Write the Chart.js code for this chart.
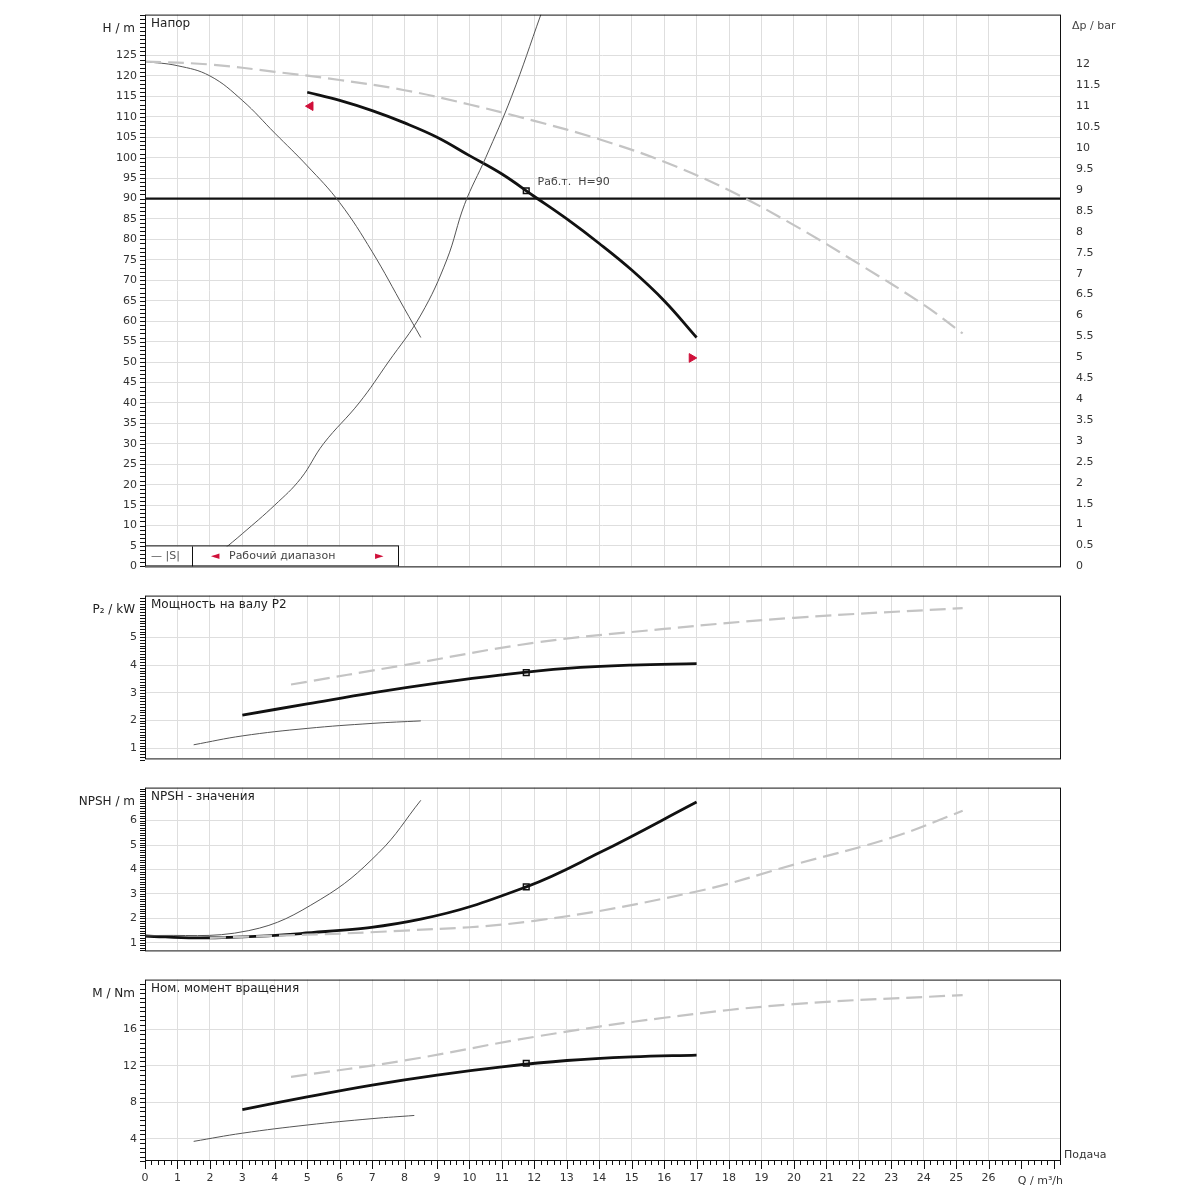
<!DOCTYPE html>
<html><head><meta charset="utf-8">
<script src="https://cdn.jsdelivr.net/npm/chart.js@4.4.1/dist/chart.umd.min.js"></script>
<style>
body{margin:0;background:#fff;width:1200px;height:1200px;position:relative;overflow:hidden}
.p{position:absolute;left:0;width:1200px}
</style></head><body>
<div class="p" style="top:0;height:581px"><canvas id="c1"></canvas></div>
<div class="p" style="top:581px;height:192px"><canvas id="c2"></canvas></div>
<div class="p" style="top:773px;height:192px"><canvas id="c3"></canvas></div>
<div class="p" style="top:965px;height:235px"><canvas id="c4"></canvas></div>
<script>
// ---- data (Q in m³/h) ----
const headQ = [5, 6, 7, 8, 9, 10, 11, 12, 13, 14, 15, 16, 17];
const headH = [116, 114, 111.5, 108.5, 105, 100.5, 96, 90.5, 85, 79, 72.5, 65, 56];
const sysQ = [2.4, 3, 4, 4.8, 5.5, 6.6, 7.5, 8.5, 9.3, 9.85, 10.5, 11.3, 12.2];
const sysH = [4, 8, 15, 21.5, 30, 40, 50, 61.5, 75, 88.6, 100, 115, 135];
const minQ = [0, 1, 2, 3, 4, 5, 6, 7, 8, 8.5];
const minH = [123.5, 122.5, 120, 114, 106, 98, 89, 77, 63, 56];
const maxQ = [0, 2, 4, 6, 8, 10, 12, 14, 16, 18, 20, 22, 24, 25.2];
const maxH = [123.5, 122.8, 121, 119, 116.5, 113, 109, 104.5, 99, 92, 83.5, 74, 64, 57];
const dutyQ = 11.75, dutyH = 91.9, setH = 90;

const p2Q = [3, 5, 7, 9, 11, 13, 15, 17];
const p2 = [2.2, 2.6, 3.0, 3.35, 3.65, 3.88, 4.0, 4.05];
const p2MinQ = [1.5, 3, 5, 7, 8.5];
const p2Min = [1.13, 1.45, 1.72, 1.9, 1.99];
const p2MaxQ = [4.5, 8, 12, 16, 20, 25.2];
const p2Max = [3.3, 4.0, 4.8, 5.3, 5.7, 6.05];
const p2Duty = 3.73;

const npQ = [0, 1.7, 4.8, 8.5, 11.75, 14, 17];
const np = [1.28, 1.2, 1.38, 1.97, 3.29, 4.68, 6.76];
const npMinQ = [0, 3.2, 5.4, 7.2, 8.5];
const npMin = [1.28, 1.5, 2.77, 4.68, 6.83];
const npMaxQ = [2, 8, 12, 17, 20, 23, 25.2];
const npMax = [1.2, 1.5, 1.9, 3.1, 4.2, 5.3, 6.4];
const npDuty = 3.29;

const mQ = [3, 5, 7, 9, 11, 13, 15, 17];
const m = [7.2, 8.6, 9.9, 11.0, 11.9, 12.6, 13.0, 13.2];
const mMinQ = [1.5, 3, 5, 7, 8.3];
const mMin = [3.7, 4.6, 5.5, 6.2, 6.55];
const mMaxQ = [4.5, 8, 12, 16, 20, 25.2];
const mMax = [10.8, 12.6, 15.2, 17.3, 18.8, 19.8];
const mDuty = 12.3;

const xTicks = [0,1,2,3,4,5,6,7,8,9,10,11,12,13,14,15,16,17,18,19,20,21,22,23,24,25,26];

const pts = (xs, ys) => xs.map((x, i) => ({x, y: ys[i]}));
const FONT = {family: 'DejaVu Sans', size: 11};
const gridC = '#dedede';

function line(data, kind) {
  const s = {
    bold: {borderColor: '#111', borderWidth: 2.8},
    thin: {borderColor: '#555', borderWidth: 1},
    dash: {borderColor: '#c4c4c4', borderWidth: 2.2, borderDash: [16, 7]}
  }[kind];
  return Object.assign({type: 'line', data, pointRadius: 0, tension: 0.4, fill: false}, s);
}
function duty(x, y) {
  return {type: 'scatter', data: [{x, y}], pointStyle: 'rect', pointRadius: 4,
    pointBackgroundColor: '#fff', pointBorderColor: '#111', pointBorderWidth: 1.5};
}

function makeChart(id, o) {
  const isBottom = !!o.bottom;
  const frame = {
    id: 'frame',
    afterDraw(ch) {
      const c = ch.ctx, a = ch.chartArea, y = ch.scales.y, x = ch.scales.x;
      c.save();
      c.strokeStyle = '#111'; c.lineWidth = 1;
      c.strokeRect(a.left + .5, a.top + .5, a.right - a.left, a.bottom - a.top);
      // ruler ticks left
      for (let v = y.min; v <= y.max + 1e-9; v += o.minor) {
        const py = Math.round(y.getPixelForValue(Math.round(v / o.minor) * o.minor)) + .5;
        c.beginPath(); c.moveTo(a.left - 5, py); c.lineTo(a.left, py); c.stroke();
      }
      if (isBottom) {
        for (let v = 0; v <= x.max; v += 0.2) {
          const px = Math.round(x.getPixelForValue(v)) + .5;
          const big = Math.abs(v - Math.round(v)) < 1e-6;
          c.beginPath(); c.moveTo(px, a.bottom); c.lineTo(px, a.bottom + (big ? 9 : 5)); c.stroke();
        }
        c.fillStyle = '#333'; c.font = '11px DejaVu Sans'; c.textAlign = 'left'; c.textBaseline = 'alphabetic';
        c.fillText('Q / m³/h', x.getPixelForValue(26.9), a.bottom + 24);
        c.fillText('Подача', a.right + 4, a.bottom - 2);
      }
      c.fillStyle = '#222'; c.font = '12px DejaVu Sans'; c.textAlign = 'left'; c.textBaseline = 'top';
      c.fillText(o.title, a.left + 6, a.top + 3);
      c.textAlign = 'right';
      c.fillText(o.unit, a.left - 10, a.top + 8);
      if (o.extra) o.extra(ch, c, a);
      c.restore();
    }
  };
  const scales = {
    x: {type: 'linear', min: 0, max: 28.2,
      afterFit: s => { s.height = isBottom ? 40 : 0; },
      afterBuildTicks: s => { s.ticks = xTicks.map(v => ({value: v})); },
      ticks: {display: isBottom, font: FONT, color: '#333', autoSkip: false, maxRotation: 0, padding: 12},
      grid: {color: gridC, borderDash: [6, 14], drawTicks: false},
      border: {display: false}},
    y: {min: o.min, max: o.max,
      afterFit: s => { s.width = 145; },
      afterBuildTicks: s => { s.ticks = o.ticks.map(v => ({value: v})); },
      ticks: {font: FONT, color: '#333', padding: 8, autoSkip: false},
      grid: {color: gridC, borderDash: [6, 14], drawTicks: false},
      border: {display: false}},
    yr: Object.assign({position: 'right', min: 0, max: o.rmax || 1,
      afterFit: s => { s.width = 140; },
      ticks: {display: !!o.rticks, font: FONT, color: '#333', padding: 8, autoSkip: false},
      grid: {display: false}, border: {display: false}},
      o.rticks ? {afterBuildTicks: s => { s.ticks = o.rticks.map(v => ({value: v})); }} : {})
  };
  return new Chart(document.getElementById(id), {
    data: {datasets: o.datasets},
    options: {responsive: true, maintainAspectRatio: false, animation: false,
      layout: {autoPadding: false, padding: {top: o.padTop || 0, left: 0, right: 0, bottom: 0}},
      plugins: {legend: {display: false}, tooltip: {enabled: false}},
      scales},
    plugins: [frame]
  });
}

const range = (a, b, s) => { const r = []; for (let v = a; v <= b + 1e-9; v += s) r.push(+v.toFixed(2)); return r; };

makeChart('c1', {
  title: 'Напор', unit: 'H / m', min: 0, max: 135, minor: 1, padTop: 8,
  ticks: range(0, 125, 5), rmax: 135 / 10.23, rticks: range(0, 12, 0.5),
  datasets: [
    line(pts(maxQ, maxH), 'dash'),
    line(pts(minQ, minH), 'thin'),
    line(pts(sysQ, sysH), 'thin'),
    Object.assign(line([{x: 0, y: setH}, {x: 28.2, y: setH}], 'bold'), {tension: 0, borderWidth: 2.2}),
    line(pts(headQ, headH), 'bold'),
    duty(dutyQ, dutyH),
    {type: 'scatter', data: [{x: 5.1, y: 112.6}], pointStyle: 'triangle', rotation: -90, pointRadius: 5, pointBackgroundColor: '#d0103a', pointBorderColor: '#d0103a'},
    {type: 'scatter', data: [{x: 16.85, y: 51}], pointStyle: 'triangle', rotation: 90, pointRadius: 5, pointBackgroundColor: '#d0103a', pointBorderColor: '#d0103a'}
  ],
  extra(ch, c, a) {
    c.font = '11px DejaVu Sans'; c.textAlign = 'left'; c.textBaseline = 'middle';
    c.fillStyle = '#444';
    c.fillText('Раб.т.  Н=90', ch.scales.x.getPixelForValue(12.1), ch.scales.y.getPixelForValue(94));
    c.fillStyle = '#fff'; c.fillRect(a.left, a.bottom - 20, 253, 20);
    c.strokeStyle = '#111'; c.strokeRect(a.left + .5, a.bottom - 20.5, 253, 20);
    c.beginPath(); c.moveTo(a.left + 47.5, a.bottom - 20); c.lineTo(a.left + 47.5, a.bottom); c.stroke();
    c.fillStyle = '#555'; c.fillText('— |S|', a.left + 6, a.bottom - 10);
    c.fillStyle = '#d0103a'; c.fillText('◄', a.left + 66, a.bottom - 10); c.fillText('►', a.left + 230, a.bottom - 10);
    c.fillStyle = '#444'; c.fillText('Рабочий диапазон', a.left + 84, a.bottom - 10);
    c.textAlign = 'left'; c.fillText('Δp / bar', a.right + 12, a.top + 12);
  }
});

makeChart('c2', {
  title: 'Мощность на валу P2', unit: 'P₂ / kW', min: 0.64, max: 6.5, minor: 0.1,
  ticks: [1, 2, 3, 4, 5],
  datasets: [line(pts(p2MaxQ, p2Max), 'dash'), line(pts(p2MinQ, p2Min), 'thin'), line(pts(p2Q, p2), 'bold'), duty(dutyQ, p2Duty)]
});

makeChart('c3', {
  title: 'NPSH - значения', unit: 'NPSH / m', min: 0.69, max: 7.35, minor: 0.1,
  ticks: [1, 2, 3, 4, 5, 6],
  datasets: [line(pts(npMaxQ, npMax), 'dash'), line(pts(npMinQ, npMin), 'thin'), line(pts(npQ, np), 'bold'), duty(dutyQ, npDuty)]
});

makeChart('c4', {
  title: 'Ном. момент вращения', unit: 'M / Nm', min: 1.65, max: 21.5, minor: 0.5, bottom: true,
  ticks: [4, 8, 12, 16],
  datasets: [line(pts(mMaxQ, mMax), 'dash'), line(pts(mMinQ, mMin), 'thin'), line(pts(mQ, m), 'bold'), duty(dutyQ, mDuty)]
});
</script>
</body></html>
